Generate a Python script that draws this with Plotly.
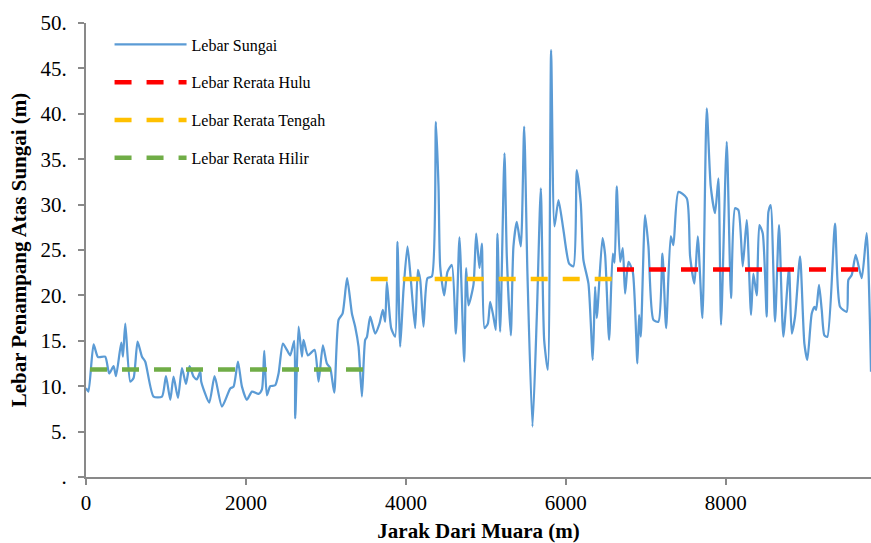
import plotly.graph_objects as go

# Distance from river mouth (m) and river width (m)
jarak = [0, 30, 95, 150, 240, 290, 345, 375, 441, 462, 491, 554, 595, 645, 700, 741,
         845, 950, 1000, 1054, 1095, 1150, 1200, 1250, 1295, 1345, 1387, 1429, 1441,
         1541, 1608, 1700, 1804, 1845, 1900, 1950, 2012, 2075, 2158, 2200, 2229, 2262,
         2304, 2366, 2408, 2462, 2512, 2554, 2604, 2616, 2658, 2700, 2720, 2775, 2858,
         2908, 2962, 3012, 3054, 3104, 3158, 3208, 3265, 3325, 3366, 3408, 3450, 3491,
         3512, 3554, 3616, 3670, 3712, 3741, 3762, 3816, 3866, 3895, 3929, 3970, 4020,
         4062, 4116, 4150, 4179, 4220, 4270, 4325, 4375, 4408, 4429, 4479, 4520, 4575,
         4625, 4670, 4729, 4754, 4783, 4845, 4879, 4920, 4950, 4983, 5025, 5054, 5095,
         5125, 5145, 5179, 5233, 5262, 5312, 5345, 5387, 5437, 5479, 5520, 5583, 5637,
         5687, 5729, 5775, 5816, 5858, 5908, 5970, 6041, 6095, 6137, 6187, 6220, 6283,
         6337, 6366, 6387, 6458, 6491, 6541, 6587, 6610, 6637, 6679, 6712, 6741, 6783,
         6837, 6895, 6916, 6937, 6991, 7033, 7095, 7158, 7208, 7254, 7312, 7345, 7408,
         7512, 7554, 7608, 7650, 7708, 7762, 7812, 7866, 7908, 7941, 8012, 8066, 8116,
         8158, 8212, 8262, 8316, 8345, 8387, 8420, 8462, 8512, 8533, 8562, 8616, 8666,
         8720, 8791, 8825, 8866, 8929, 8983, 9020, 9075, 9110, 9130, 9166, 9200, 9233,
         9270, 9366, 9429, 9512, 9533, 9575, 9625, 9700, 9762, 9816]
lebar = [9.8, 9.4, 14.6, 13.2, 13.25, 11.4, 12.2, 11.1, 14.8, 13.25, 16.9, 10.5, 10.9, 14.9, 13.25, 12.7,
         8.85, 8.85, 11.1, 8.5, 11.05, 8.7, 12.0, 10.25, 12.2, 11.05, 10.75, 11.6, 10.5,
         8.2, 11.1, 7.75, 9.75, 9.95, 12.7, 9.95, 8.5, 9.4, 9.15, 9.65, 13.9, 9.0,
         10.0, 10.1, 11.4, 14.7, 14.0, 13.4, 15.0, 6.45, 16.55, 13.25, 15.1, 13.4, 14.0,
         10.5, 14.5, 12.5, 12.0, 9.3, 17.3, 18.0, 21.9, 18.0, 16.55, 14.35, 8.85, 15.1,
         15.4, 17.65, 15.8, 16.9, 18.4, 17.1, 21.5, 16.4, 15.45, 25.9, 14.35, 20.6, 25.4,
         21.7, 16.4, 22.8, 21.7, 16.55, 21.9, 22.1, 39.1, 32.0, 23.2, 20.0, 22.6, 23.35,
         15.8, 26.4, 12.7, 23.0, 18.9, 21.15, 26.8, 23.0, 25.7, 16.4, 16.9, 19.3, 17.65,
         16.2, 26.8, 16.0, 35.65, 24.3, 15.6, 25.4, 28.1, 25.4, 38.6, 22.4, 5.55, 17.65,
         31.8, 15.1, 11.8, 47.0, 27.6, 30.5, 27.2, 23.5, 23.2, 33.8, 30.15, 23.9, 21.3,
         12.9, 20.95, 17.5, 26.3, 24.5, 15.1, 24.6, 23.6, 32.0, 23.7, 25.2, 20.2, 23.7,
         22.6, 12.5, 17.85, 15.45, 28.85, 25.4, 17.3, 17.1, 24.6, 16.4, 26.5, 25.55, 31.4,
         30.7, 24.3, 21.3, 26.5, 17.5, 40.6, 32.0, 29.05, 32.9, 16.75, 36.9, 19.7, 29.6,
         29.4, 23.2, 28.3, 17.85, 22.4, 20.0, 27.75, 26.85, 17.65, 29.2, 29.95, 17.1, 27.75,
         15.45, 23.0, 15.8, 17.65, 24.3, 14.7, 12.9, 18.0, 18.75, 18.4, 21.15, 18.4, 15.6,
         15.45, 27.9, 18.75, 18.2, 21.7, 22.25, 24.45, 21.9, 26.85, 11.6]

# Mean widths per river section (start, end, value)
hilir_x = [50, 3550]
hilir_y = [11.85, 11.85]
tengah_x = [3560, 6640]
tengah_y = [21.8, 21.8]
hulu_x = [6640, 9816]
hulu_y = [22.85, 22.85]

ytick_vals = [0, 5, 10, 15, 20, 25, 30, 35, 40, 45, 50]
ytick_text = [".", "5.", "10.", "15.", "20.", "25.", "30.", "35.", "40.", "45.", "50."]
xtick_vals = [0, 2000, 4000, 6000, 8000]

FONT = "Liberation Serif, Times New Roman, serif"
dash = "17px,15px"

fig = go.Figure()
fig.add_trace(go.Scatter(x=jarak, y=lebar, mode="lines", name="Lebar Sungai",
                         line=dict(color="#5B9BD5", width=2.25, shape="spline", smoothing=0.6),
                         legendgroup="a"))
fig.add_trace(go.Scatter(x=hulu_x, y=hulu_y, mode="lines", name="Lebar Rerata Hulu",
                         line=dict(color="#FF0000", width=4.5, dash=dash), legendgroup="b"))
fig.add_trace(go.Scatter(x=tengah_x, y=tengah_y, mode="lines", name="Lebar Rerata Tengah",
                         line=dict(color="#FFC000", width=4.5, dash=dash), legendgroup="c"))
fig.add_trace(go.Scatter(x=hilir_x, y=hilir_y, mode="lines", name="Lebar Rerata Hilir",
                         line=dict(color="#70AD47", width=4.5, dash=dash), legendgroup="d"))

fig.update_layout(
    width=871, height=543,
    margin=dict(l=86, r=0, t=23, b=66),
    paper_bgcolor="white", plot_bgcolor="white",
    font=dict(family=FONT, color="black"),
    showlegend=True,
    legend=dict(x=0.03, y=0.99, xanchor="left", yanchor="top",
                font=dict(family=FONT, size=16, color="black"),
                bgcolor="rgba(0,0,0,0)", itemwidth=72, tracegroupgap=14,
                traceorder="grouped"),
    xaxis=dict(range=[0, 9816], tickvals=xtick_vals, showgrid=False, zeroline=False,
               showline=True, linecolor="#898989", linewidth=2, automargin=False,
               ticks="outside", ticklen=6, tickcolor="#898989", tickwidth=1.5,
               tickfont=dict(family=FONT, size=21, color="black"),
               title=dict(text="<b>Jarak Dari Muara (m)</b>", font=dict(family=FONT, size=21), standoff=12)),
    yaxis=dict(range=[0, 50], tickvals=ytick_vals, ticktext=ytick_text, showgrid=False,
               zeroline=False, showline=True, linecolor="#898989", linewidth=2, automargin=False,
               ticks="outside", ticklen=6, tickcolor="#898989", tickwidth=1.5,
               ticklabelstandoff=7,
               tickfont=dict(family=FONT, size=21, color="black"),
               title=dict(text="<b>Lebar Penampang Atas Sungai (m)</b>", font=dict(family=FONT, size=21), standoff=8)),
)

fig.write_html("out.html", config={"displayModeBar": False},
               post_script="document.body.style.margin='0';")
